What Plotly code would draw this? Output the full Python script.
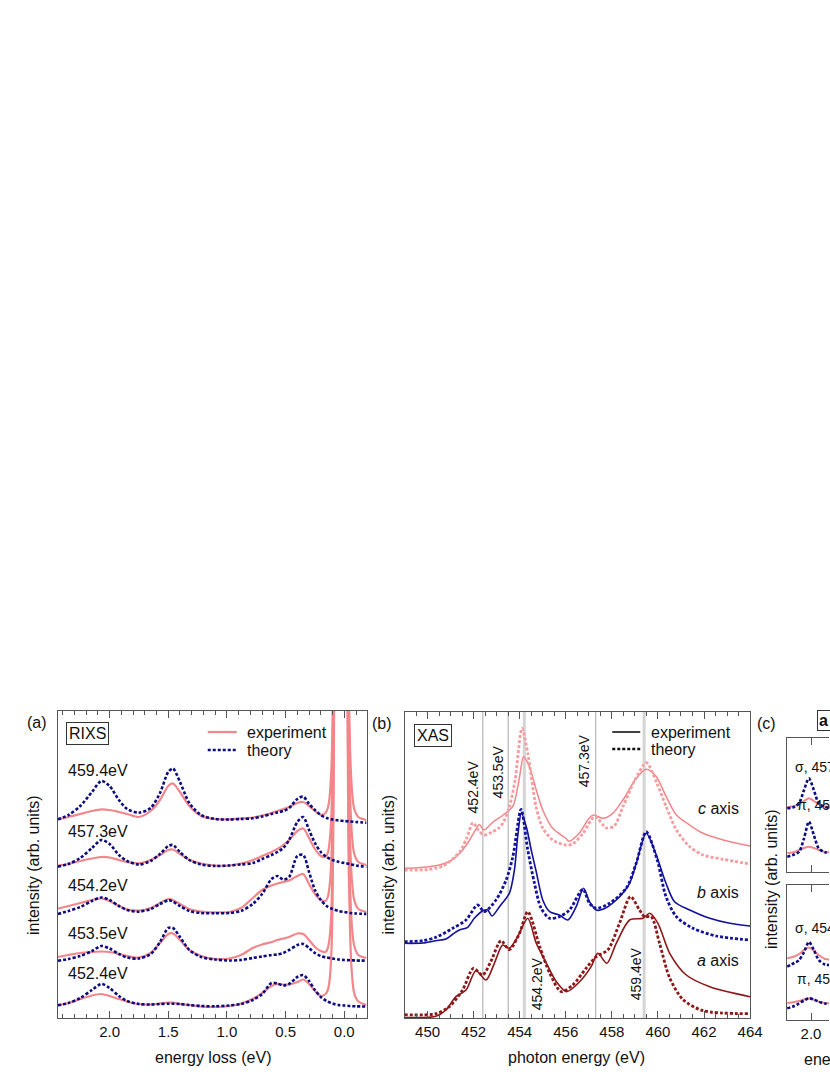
import plotly.graph_objects as go

W, H = 830, 1075          # reference picture size (positions below are given in these pixels)
FIG_W = 842               # page is squeezed horizontally when photographed
FONT = "Liberation Sans, Arial, sans-serif"

# ---------------- Panel (a): RIXS (intensity in arb. units, offset stack) ----------------
rixs_labels = ["452.4eV", "453.5eV", "454.2eV", "457.3eV", "459.4eV"]
loss_exp = [2.44, 2.35, 2.25, 2.15, 2.07, 2.0, 1.92, 1.85, 1.75, 1.65, 1.57, 1.5, 1.46, 1.4, 1.32,
            1.22, 1.1, 0.98, 0.88, 0.78, 0.7, 0.62, 0.57, 0.52, 0.47, 0.4, 0.35, 0.3, 0.25, 0.2,
            0.16, 0.14, 0.125, 0.11, 0.10, 0.09, 0.08, 0.03, -0.02, -0.035, -0.05, -0.065, -0.085, -0.12, -0.19]
loss_th = [2.44, 2.35, 2.25, 2.15, 2.07, 2.0, 1.92, 1.85, 1.75, 1.65, 1.57, 1.5, 1.46, 1.4, 1.32,
           1.22, 1.1, 0.98, 0.88, 0.78, 0.7, 0.62, 0.57, 0.52, 0.47, 0.4, 0.35, 0.3, 0.25, 0.2,
           0.15, 0.1, 0.05, 0.0, -0.05, -0.1, -0.19]

rixs_exp_4524 = [13, 15, 19, 22.5, 24, 22, 19, 16.5, 14, 13.5, 14.5, 15.5, 15.3, 14, 13, 11.5, 11, 12, 14.5, 19,
                 25, 32, 34, 33.5, 33.5, 36, 38.5, 34, 27, 22,
                 24, 28, 38, 64, 113, 237, 466, 2015, 463, 173, 83, 45, 24.5, 16.5, 13]
rixs_exp_4535 = [61, 63, 65, 66, 66.5, 66, 64, 62, 60.5, 65, 75, 84, 84.5, 78, 68, 62, 59, 59.5, 63, 70,
                 73.5, 76, 78, 79.5, 81, 84.5, 84, 78, 71, 67,
                 66, 70, 80, 106, 155, 280, 510, 2060, 510, 220, 130, 92, 72, 63, 60]
rixs_exp_4542 = [109.5, 112, 115, 118, 119.7, 117, 112, 108.5, 107.5, 110, 115, 119, 118, 114, 109, 106.5, 105.7,
                 106, 110, 120, 128, 132.5, 134.5, 136, 137.5, 142, 144, 134, 124, 118,
                 117, 121, 132, 158, 207, 330, 560, 2110, 556, 266, 176, 138, 118, 109, 106]
rixs_exp_4573 = [152.5, 154, 157, 159.5, 161, 160.5, 158, 156, 154.7, 158, 163, 168, 168.5, 164, 158, 154.5, 152.5,
                 152.5, 154.5, 158, 162, 166, 169, 173, 178, 187, 189.5, 180, 169, 162,
                 161, 165, 176, 202, 250, 375, 600, 2150, 602, 312, 222, 184, 164, 156, 153]
rixs_exp_4594 = [198.7, 201, 204, 207, 208.7, 208, 206, 204, 201, 207, 218, 232, 234.5, 226, 212, 202, 199, 198.7,
                 199.5, 200.5, 202.5, 205, 207, 209, 211, 215, 216, 212, 207, 203,
                 205, 210, 221, 248, 297, 420, 650, 2200, 647, 357, 267, 229, 209, 201, 198]

rixs_th_4524 = [12.7, 15, 20, 28, 34, 30, 22, 17, 14, 13.5, 14, 14.3, 14.3, 14, 13, 12, 11.7, 12.5, 14, 18,
                24, 35, 34.5, 32.5, 34, 41, 43, 37, 28, 21, 17, 14.5, 13, 12.5, 12, 11.7, 11.5]
rixs_th_4535 = [57.3, 59, 62, 67, 72, 69.5, 64, 60.5, 59.5, 64, 76, 90, 90, 81, 68, 61, 58.5, 57.5, 58, 60,
                61.5, 63, 63.5, 65, 68, 73, 74, 70, 65, 62, 60.5, 59.5, 58.5, 58, 57.8, 57.5, 57.3]
rixs_th_4542 = [104, 107, 111, 117, 120.5, 118, 112, 108, 106.3, 109, 114, 117.7, 116.5, 112, 107, 105, 104.7,
                105, 107, 114, 124, 139, 142, 138.5, 141, 162, 163, 146, 128, 118, 112, 109, 107, 106, 105, 104.5, 104]
rixs_th_4573 = [151.3, 154, 160, 170, 178, 174, 163, 157, 153.5, 157, 164, 172, 173, 166, 158, 153.5, 152,
                152.5, 153.5, 155, 159, 163, 166, 170, 178, 196, 201, 188, 175, 166, 161, 158, 156.3, 155, 154,
                152.5, 151.3]
rixs_th_4594 = [198.7, 203, 212, 226, 237, 232, 218, 209, 205.3, 210, 225, 246, 249.5, 236, 215, 203, 199,
                198.5, 199, 199.7, 201.5, 204, 205.5, 207, 210, 219, 221.5, 214, 208, 203, 200, 198.5, 197.5,
                197, 196.5, 196, 195.3]

rixs_exp = [rixs_exp_4524, rixs_exp_4535, rixs_exp_4542, rixs_exp_4573, rixs_exp_4594]
rixs_th = [rixs_th_4524, rixs_th_4535, rixs_th_4542, rixs_th_4573, rixs_th_4594]

# ---------------- Panel (b): XAS ----------------
xas_marks = [452.4, 453.5, 454.2, 457.3, 459.4]
xas_c_exp_E = [449.0, 449.7, 450.5, 451.0, 451.4, 451.8, 452.05, 452.25, 452.45, 452.84, 453.28, 453.71, 453.97,
               454.17, 454.42, 454.72, 455.0, 455.43, 456.0, 456.14, 456.58, 457.01, 457.2, 457.61, 458.04,
               458.48, 459.06, 459.49, 459.93, 460.36, 460.8, 461.38, 461.96, 462.83, 464.0]
xas_c_exp = [149.7, 150.5, 153, 157, 164.7, 177, 187, 193.5, 188, 196, 203, 212, 238, 261.3, 251.3, 228, 208,
             189.7, 179.7, 176.7, 184.7, 199.7, 203, 199.7, 204.7, 218, 239.7, 248.7, 241.3, 221.3, 203, 193,
             184.7, 178, 172]
xas_c_th_E = [449.0, 450.0, 450.67, 451.39, 451.7, 451.97, 452.2, 452.45, 452.8, 453.1, 453.3, 453.55, 453.8,
              454.1, 454.35, 454.71, 455.0, 455.43, 456.0, 456.3, 456.75, 457.26, 457.77, 458.1, 458.48, 459.0,
              459.5, 459.93, 460.36, 460.8, 461.38, 461.96, 462.83, 464.0]
xas_c_th = [148, 148.5, 152, 166, 180, 195.3, 188, 183, 186, 190, 196, 211, 238, 289.7, 264.7, 211.3, 190, 178,
            173, 174, 184.7, 201.3, 190, 192, 211.3, 238, 255.3, 236, 211.3, 188, 171.3, 163, 158.7, 154]

xas_b_exp_E = [449.0, 449.8, 450.36, 450.8, 451.1, 451.38, 451.74, 452.03, 452.39, 452.61, 452.8, 453.12,
               453.55, 453.77, 453.92, 454.07, 454.3, 454.5, 454.72, 455.0, 455.3, 455.72, 456.09, 456.45,
               456.77, 457.03, 457.32, 457.61, 458.19, 458.77, 459.06, 459.49, 459.9, 460.35, 460.72, 461.38,
               462.25, 463.12, 464.0]
xas_b_exp = [74.7, 75, 77.3, 79, 84, 88, 90.7, 99.7, 107, 108, 102, 111.3, 124.7, 148, 183, 204.7, 190, 168,
             146, 118, 106.3, 103, 98, 111.3, 129.7, 116.3, 108, 108.7, 118, 134.7, 154.7, 184.7, 164.7, 134.7,
             116.3, 108, 99.7, 94.7, 92]
xas_b_th_E = [449.0, 449.8, 450.36, 451.09, 451.67, 452.17, 452.46, 452.97, 453.41, 453.7, 454.06, 454.35,
              454.64, 454.93, 455.3, 455.72, 456.16, 456.74, 457.03, 457.32, 457.9, 458.62, 459.06, 459.49,
              459.97, 460.35, 460.8, 461.52, 462.54, 464.0]
xas_b_th = [76.3, 77.3, 80.7, 89.7, 98, 113, 106.3, 118, 138, 161, 208.7, 168, 134.7, 109.7, 99.7, 101.3, 108,
            128.7, 114.7, 109.7, 114.7, 129.7, 155, 186.3, 158, 121.3, 101.3, 89.7, 82, 78]

xas_a_exp_E = [449.0, 450.36, 450.8, 451.23, 451.67, 452.1, 452.54, 452.9, 453.26, 453.55, 453.91, 454.35,
               454.72, 455.16, 455.59, 456.03, 456.6, 457.1, 457.39, 457.78, 458.19, 458.77, 459.35, 459.64,
               460.0, 460.51, 461.23, 462.25, 464.0]
xas_a_exp = [0.5, 1.7, 8, 21.3, 28, 47.3, 38, 54.7, 73, 69.7, 81.3, 99.7, 74.7, 54.7, 36.3, 26.3, 36.3, 51.3,
             64.7, 54.7, 74.7, 98, 99.7, 104.7, 94.7, 64.7, 43, 31.3, 21.3]
xas_a_th_E = [449.0, 450.36, 450.94, 451.52, 451.99, 452.39, 452.75, 453.19, 453.55, 453.99, 454.35, 454.87,
              455.3, 455.8, 456.3, 456.88, 457.32, 457.83, 458.33, 458.81, 459.2, 459.42, 459.71, 460.07,
              460.51, 461.09, 461.96, 464.0]
xas_a_th = [3.3, 4.3, 11.3, 28, 49.7, 43, 56.7, 77.3, 68.3, 84.7, 106.3, 71.3, 45, 26.3, 33, 49.7, 61.3, 68.3,
            94.7, 121.3, 108, 101.3, 101.3, 74.7, 40, 18.3, 7.3, 4.3]

# ---------------- Panel (c): polarisation-resolved RIXS, a axis ----------------
c_loss = [2.34, 2.24, 2.17, 2.1, 2.03, 1.96, 1.89, 1.8, 1.74]
c_sigma_4573_exp = [64.7, 66, 68, 71, 73.7, 71, 68, 65.5, 65]
c_sigma_4573_th = [63.7, 65, 69, 82, 93.7, 82, 68.7, 65, 64]
c_pi_4573_exp = [18.7, 20, 22, 24, 25.3, 24, 22, 20, 19.7]
c_pi_4573_th = [15.3, 17.5, 20.3, 33.7, 50.3, 37, 23.7, 19.7, 19.5]
c_sigma_4542_exp = [61.7, 63.5, 66, 70, 72.5, 69.5, 65, 61, 60.5]
c_sigma_4542_th = [53.3, 57, 60, 68, 78, 70, 60, 55.5, 55]
c_pi_4542_exp = [16.7, 18, 19, 20.5, 21.7, 20.5, 18.3, 17, 16.7]
c_pi_4542_th = [11.7, 14, 16.7, 19.5, 21.7, 20.5, 18.3, 16.5, 16]

# ---------------- styles ----------------
PINK = "#F3868A"
PINK_LIGHT = "#F59DA0"
NAVY = "#0B0B82"
BLUE = "#11119C"
DRED = "#8E1616"
AXC = "#555555"
DOT = "3px,2px"


def fx(p):
    return p / W


def fy(p):
    return 1 - p / H


fig = go.Figure()

# panel (a)
for e, t in zip(rixs_exp, rixs_th):
    fig.add_trace(go.Scatter(x=loss_exp, y=e, mode="lines", xaxis="x", yaxis="y",
                             line=dict(color=PINK, width=2.2, shape="spline", smoothing=0.8),
                             showlegend=False, hoverinfo="skip"))
    fig.add_trace(go.Scatter(x=loss_th, y=t, mode="lines", xaxis="x", yaxis="y",
                             line=dict(color=NAVY, width=2.6, dash=DOT, shape="spline", smoothing=0.8),
                             showlegend=False, hoverinfo="skip"))

# panel (b)
xas_sets = [
    (xas_c_exp_E, xas_c_exp, PINK, 1.5, "solid"),
    (xas_c_th_E, xas_c_th, PINK_LIGHT, 2.8, DOT),
    (xas_b_exp_E, xas_b_exp, BLUE, 1.6, "solid"),
    (xas_b_th_E, xas_b_th, BLUE, 2.8, DOT),
    (xas_a_exp_E, xas_a_exp, DRED, 1.6, "solid"),
    (xas_a_th_E, xas_a_th, DRED, 2.8, DOT),
]
for xe, ye, col, w, dash in xas_sets:
    fig.add_trace(go.Scatter(x=xe, y=ye, mode="lines", xaxis="x2", yaxis="y2",
                             line=dict(color=col, width=w, dash=dash, shape="spline", smoothing=0.8),
                             showlegend=False, hoverinfo="skip"))

# panel (c)
c_sets = [
    ("x3", "y3", c_sigma_4573_exp, c_sigma_4573_th),
    ("x3", "y3", c_pi_4573_exp, c_pi_4573_th),
    ("x4", "y4", c_sigma_4542_exp, c_sigma_4542_th),
    ("x4", "y4", c_pi_4542_exp, c_pi_4542_th),
]
for xa, ya, e, t in c_sets:
    fig.add_trace(go.Scatter(x=c_loss, y=e, mode="lines", xaxis=xa, yaxis=ya,
                             line=dict(color=PINK, width=2.0, shape="spline", smoothing=0.8),
                             showlegend=False, hoverinfo="skip"))
    fig.add_trace(go.Scatter(x=c_loss, y=t, mode="lines", xaxis=xa, yaxis=ya,
                             line=dict(color=NAVY, width=2.6, dash=DOT, shape="spline", smoothing=0.8),
                             showlegend=False, hoverinfo="skip"))

# vertical marker lines in (b)
shapes = []
for m in xas_marks:
    wide = m in (454.2, 459.4)
    shapes.append(dict(type="line", xref="x2", yref="y2 domain", x0=m, x1=m, y0=0, y1=1, layer="below",
                       line=dict(color="#D4D4D4" if wide else "#A8A8A8", width=3 if wide else 1)))

# legend samples
def leg_line(x0, x1, y, color, dash, width):
    shapes.append(dict(type="line", xref="paper", yref="paper", x0=fx(x0), x1=fx(x1), y0=fy(y), y1=fy(y),
                       line=dict(color=color, width=width, dash=dash)))

leg_line(208, 237, 732, PINK, "solid", 2.2)
leg_line(208, 237, 750, NAVY, DOT, 2.6)
leg_line(613, 641, 732, "#111111", "solid", 1.6)
leg_line(613, 641, 749, "#111111", DOT, 2.6)

ann = []


def text(s, x, y, size=16, xanchor="center", angle=0, **kw):
    ann.append(dict(text=s, x=fx(x), y=fy(y), xref="paper", yref="paper", showarrow=False,
                    xanchor=xanchor, yanchor="middle", textangle=angle,
                    font=dict(family=FONT, size=size, color="#111111"), **kw))

text("(a)", 37, 722)
text("(b)", 382, 723)
text("(c)", 767, 723)
text("intensity (arb. units)", 33, 865, angle=-90)
text("intensity (arb. units)", 388, 865, angle=-90)
text("intensity (arb. units)", 772, 879, angle=-90)
text("energy loss (eV)", 214, 1057)
text("photon energy (eV)", 577, 1057)
text("energy loss (eV)", 803, 1059, xanchor="left")
text("RIXS", 87.5, 733, bordercolor="#333333", borderwidth=1, borderpad=2, bgcolor="white")
text("XAS", 434, 735, bordercolor="#333333", borderwidth=1, borderpad=2, bgcolor="white")
text("<b>a axis</b>", 818, 720, xanchor="left", bordercolor="#333333", borderwidth=1, borderpad=1)
text("experiment", 245, 732, xanchor="left")
text("theory", 245, 750, xanchor="left")
text("experiment", 650, 732, xanchor="left")
text("theory", 650, 749, xanchor="left")

for lab, yy in zip(rixs_labels, [973, 933, 885, 831, 770.5]):
    text(lab, 66, yy, xanchor="left")

text("<i>c</i> axis", 742, 808, xanchor="right")
text("<i>b</i> axis", 742, 892, xanchor="right")
text("<i>a</i> axis", 742, 960, xanchor="right")

for lab, x, y in [("452.4eV", 474, 787), ("453.5eV", 499, 772), ("457.3eV", 585, 761),
                  ("454.2eV", 538, 984), ("459.4eV", 637, 974)]:
    text(lab, x, y, size=14, angle=-90)

text("σ, 457.3eV", 794, 767, size=14, xanchor="left")
text("π, 457.3eV", 796, 805, size=14, xanchor="left")
text("σ, 454.2eV", 794, 928, size=14, xanchor="left")
text("π, 454.2eV", 796, 979, size=14, xanchor="left")

common_x = dict(showline=True, linecolor=AXC, linewidth=1, mirror="ticks", ticks="inside",
                tickcolor=AXC, tickwidth=1, showgrid=False, zeroline=False,
                tickfont=dict(family=FONT, size=15, color="#111111"))
common_y = dict(showline=True, linecolor=AXC, linewidth=1, mirror=True, ticks="",
                showticklabels=False, showgrid=False, zeroline=False)

fig.update_layout(
    width=FIG_W, height=H, autosize=False,
    margin=dict(l=0, r=0, t=0, b=0),
    paper_bgcolor="white", plot_bgcolor="white",
    font=dict(family=FONT, size=15, color="#111111"),
    showlegend=False,
    shapes=shapes, annotations=ann,
    xaxis=dict(domain=[fx(58), fx(367)], anchor="y", range=[2.44, -0.19], tick0=0, dtick=0.5,
               ticklen=7, tickformat=".1f", minor=dict(dtick=0.1, tick0=0, ticklen=4, ticks="inside",
                                                      tickcolor=AXC, showgrid=False), **common_x),
    yaxis=dict(domain=[fy(1018), fy(711)], anchor="x", range=[0, 307], **common_y),
    xaxis2=dict(domain=[fx(405), fx(751)], anchor="y2", range=[449, 464], tick0=450, dtick=2,
                ticklen=7, minor=dict(dtick=0.5, tick0=450, ticklen=4, ticks="inside", tickcolor=AXC,
                                      showgrid=False), **common_x),
    yaxis2=dict(domain=[fy(1018), fy(712)], anchor="x2", range=[0, 306], **common_y),
    xaxis3=dict(domain=[fx(788), 1.0], anchor="y3", range=[2.343, 1.743], tick0=0, dtick=0.5,
                ticklen=7, showticklabels=False, **common_x),
    yaxis3=dict(domain=[fy(872), fy(738)], anchor="x3", range=[0, 134],
                **{**common_y, "mirror": False}),
    xaxis4=dict(domain=[fx(788), 1.0], anchor="y4", range=[2.343, 1.743], tick0=0, dtick=0.5,
                ticklen=7, tickformat=".1f", **common_x),
    yaxis4=dict(domain=[fy(1020), fy(885)], anchor="x4", range=[0, 135],
                **{**common_y, "mirror": False}),
)

fig.write_html("out.html",
               config={"responsive": False, "displayModeBar": False},
               post_script="document.body.style.margin='0';document.body.style.overflow='hidden';")
